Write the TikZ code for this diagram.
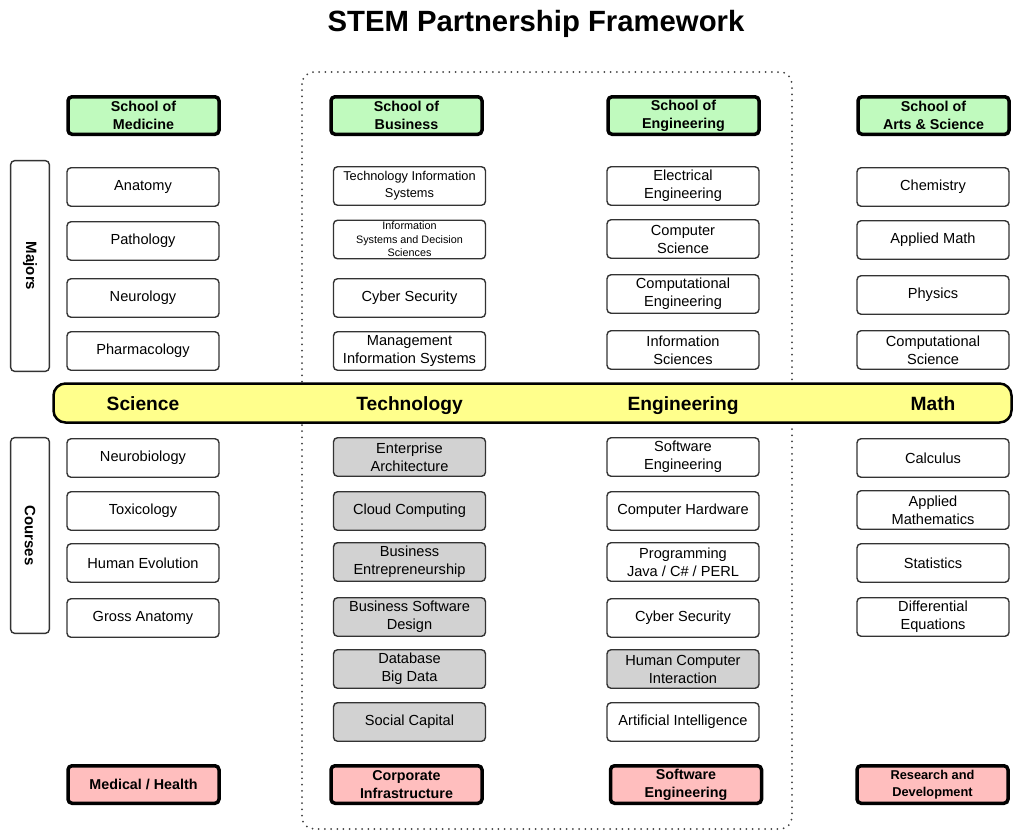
\documentclass[tikz,border=0pt]{standalone}
\usepackage{fontspec}
\setmainfont{Liberation Sans}
\definecolor{schoolgreen}{RGB}{192,250,190}
\definecolor{sectorpink}{RGB}{255,190,190}
\definecolor{bandyellow}{RGB}{255,255,140}
\definecolor{coursegray}{RGB}{210,210,210}
\tikzset{
    major/.style={
           rectangle,
           rounded corners=4pt,
           draw=black!80, line width=1.4pt,
           minimum width=152pt,
           minimum height=38.5pt,
           inner sep=1pt,
           align=center,
           font=\fontsize{14.6}{18}\selectfont,
           },
    course/.style={major, fill=coursegray},
    school/.style={
           major,
           draw=black, line width=3.5pt,
           fill=schoolgreen,
           minimum width=151pt,
           minimum height=37.5pt,
           font=\bfseries\fontsize{14.3}{18}\selectfont,
           },
    sector/.style={school, fill=sectorpink},
    side/.style={
           rectangle,
           rounded corners=4pt,
           draw=black!80, line width=1.4pt,
           minimum height=38.7pt,
           inner sep=0pt,
           rotate=-90,
           font=\bfseries\fontsize{15}{16}\selectfont,
           },
    band/.style={
           rectangle,
           rounded corners=12pt,
           draw=black, line width=2.5pt,
           fill=bandyellow,
           minimum width=958pt,
           minimum height=39pt,
           },
    field/.style={anchor=base, font=\bfseries\fontsize{19.2}{21}\selectfont},
}

\begin{document}
\begin{tikzpicture}[x=1pt,y=-1pt]
   \useasboundingbox (0,0) rectangle (1013,831);
   \node[font=\bfseries\fontsize{29.3}{31}\selectfont] (title) at (536,24) {STEM Partnership Framework};

   % business + engineering frame, under the band
   \draw[black!75, line width=2pt, line cap=round, dash pattern=on 0pt off 6.2pt,
         rounded corners=12pt] (302,72) rectangle (792,829);

   \node[side, minimum width=210.7pt] (majors)  at (30,266)   {Majors};
   \node[side, minimum width=195.7pt] (courses) at (30,535.5) {Courses};

   % medicine
   \node[school] (s_1) at (143.5,115.5) {School of\\Medicine};
   \node[major] (m_11) at (143,187) {Anatomy};
   \node[major] (m_12) at (143,241) {Pathology};
   \node[major] (m_13) at (143,298) {Neurology};
   \node[major] (m_14) at (143,351) {Pharmacology};
   \node[major] (c_11) at (143,458) {Neurobiology};
   \node[major] (c_12) at (143,511) {Toxicology};
   \node[major] (c_13) at (143,563) {Human Evolution};
   \node[major] (c_14) at (143,618) {Gross Anatomy};
   \node[sector] (o_1) at (143.5,784.5) {Medical / Health};

   % business
   \node[school] (s_2) at (406.5,115.5) {School of\\Business};
   \node[major, font=\fontsize{12.8}{17}\selectfont] (m_21) at (409.5,186) {Technology Information\\Systems};
   \node[major, font=\fontsize{10.8}{13.5}\selectfont] (m_22) at (409.5,239.5) {Information\\Systems and Decision\\Sciences};
   \node[major] (m_23) at (409.5,298) {Cyber Security};
   \node[major] (m_24) at (409.5,351) {Management\\Information Systems};
   \node[course] (c_21) at (409.5,457) {Enterprise\\Architecture};
   \node[course] (c_22) at (409.5,511) {Cloud Computing};
   \node[course] (c_23) at (409.5,562) {Business\\Entrepreneurship};
   \node[course] (c_24) at (409.5,617) {Business Software\\Design};
   \node[course] (c_25) at (409.5,669) {Database\\Big Data};
   \node[course] (c_26) at (409.5,722) {Social Capital};
   \node[sector] (o_2) at (406.5,784.5) {Corporate\\Infrastructure};

   % engineering
   \node[school] (s_3) at (683.5,115.5) {School of\\Engineering};
   \node[major] (m_31) at (683,186) {Electrical\\Engineering};
   \node[major] (m_32) at (683,239) {Computer\\Science};
   \node[major] (m_33) at (683,294) {Computational\\Engineering};
   \node[major] (m_34) at (683,350) {Information\\Sciences};
   \node[major] (c_31) at (683,457) {Software\\Engineering};
   \node[major] (c_32) at (683,511) {Computer Hardware};
   \node[major] (c_33) at (683,562) {Programming\\Java / C\# / PERL};
   \node[major] (c_34) at (683,618) {Cyber Security};
   \node[course] (c_35) at (683,669) {Human Computer\\Interaction};
   \node[major] (c_36) at (683,722) {Artificial Intelligence};
   \node[sector] (o_3) at (686,784.5) {Software\\Engineering};

   % arts & science
   \node[school] (s_4) at (933.5,115.5) {School of\\Arts \& Science};
   \node[major] (m_41) at (933,187) {Chemistry};
   \node[major] (m_42) at (933,240) {Applied Math};
   \node[major] (m_43) at (933,295) {Physics};
   \node[major] (m_44) at (933,350) {Computational\\Science};
   \node[major] (c_41) at (933,458) {Calculus};
   \node[major] (c_42) at (933,510) {Applied\\Mathematics};
   \node[major] (c_43) at (933,563) {Statistics};
   \node[major] (c_44) at (933,617) {Differential\\Equations};
   \node[sector, font=\bfseries\fontsize{12.8}{17}\selectfont] (o_4) at (932.5,784.5) {Research and\\Development};

   % the STEM band
   \node[band] (stem) at (532.5,403) {};
   \coordinate (line) at (0,410);
   \node[field] (f_1) at (line -| m_11) {Science};
   \node[field] (f_2) at (line -| m_21) {Technology};
   \node[field] (f_3) at (line -| m_31) {Engineering};
   \node[field] (f_4) at (line -| m_41) {Math};
\end{tikzpicture}
\end{document}
